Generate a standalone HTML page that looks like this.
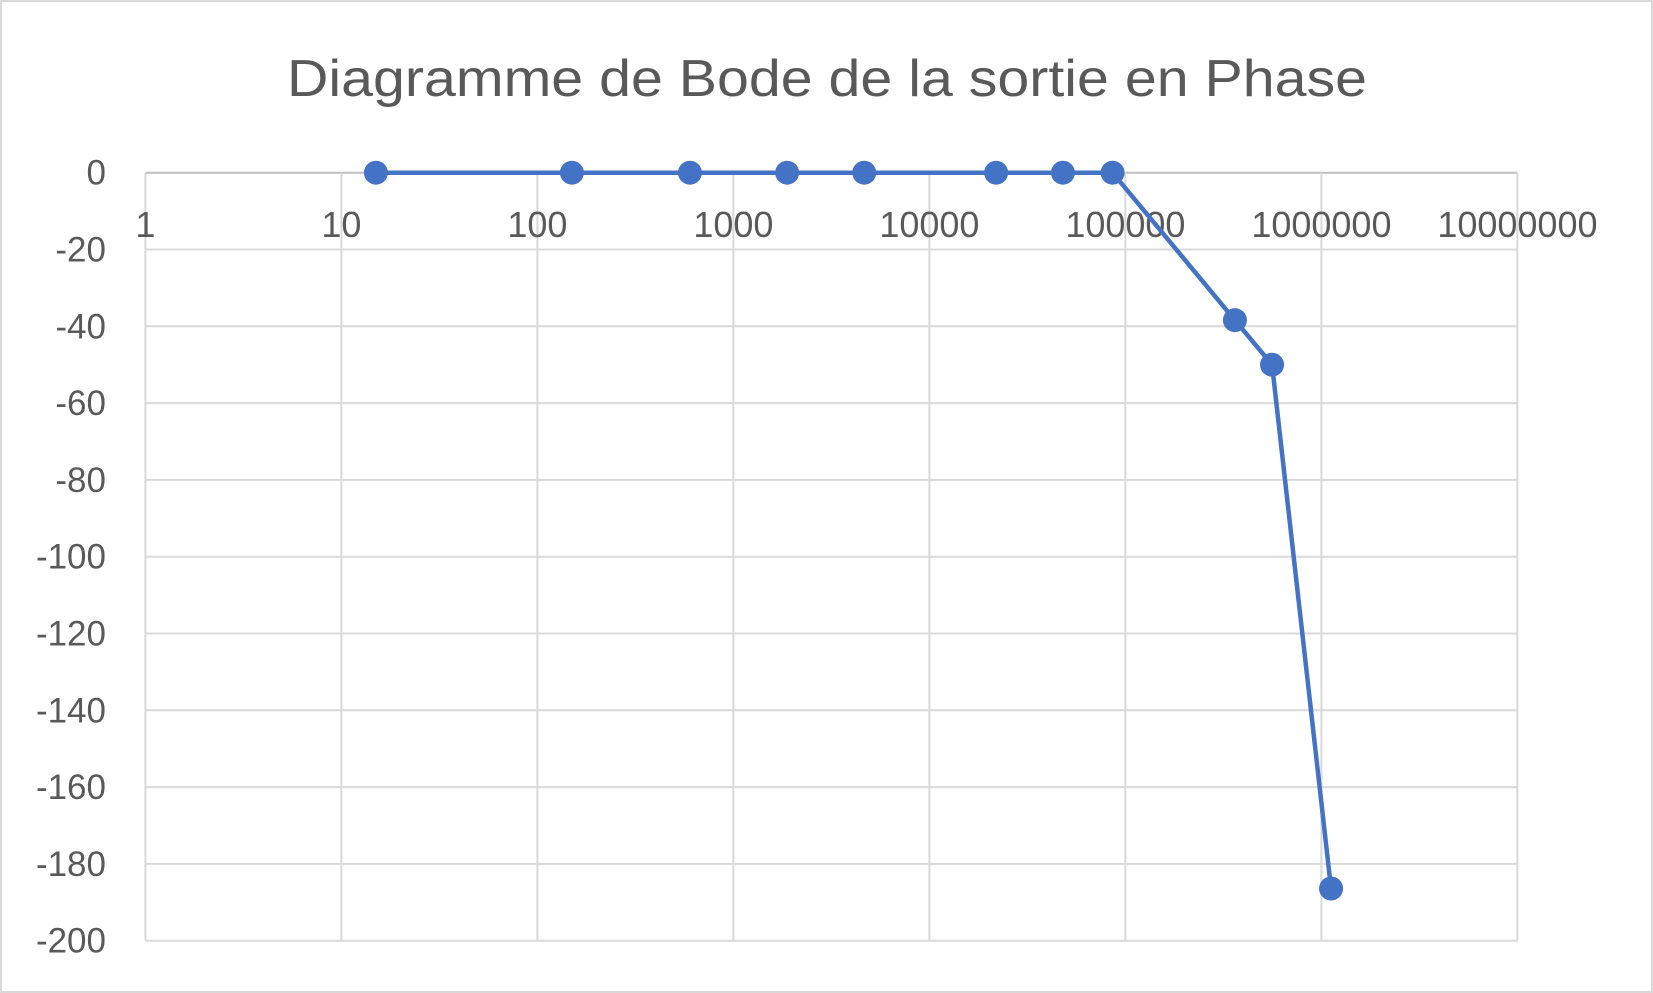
<!DOCTYPE html>
<html><head><meta charset="utf-8"><style>
html,body{margin:0;padding:0;background:#fff;}
svg{display:block;font-family:"Liberation Sans",sans-serif;}
</style></head><body>
<svg id="chart" width="1653" height="993" viewBox="0 0 1653 993">
<rect x="1" y="1" width="1651" height="991" fill="#fff" stroke="#d9d9d9" stroke-width="2"/>
<text x="827" y="96" text-anchor="middle" font-size="52" fill="#595959" textLength="1080" lengthAdjust="spacingAndGlyphs">Diagramme de Bode de la sortie en Phase</text>
<g id="grid"></g><g id="labels"></g><g id="series"></g>
</svg>
<script>
const frequencies=[15,150,600,1880,4650,21900,48000,86000,362000,560000,1120000];
const phases=[0,0,0,0,0,0,0,0,-38.4,-50,-186.4];
const yTicks=[0,-20,-40,-60,-80,-100,-120,-140,-160,-180,-200];
const xTicks=[1,10,100,1000,10000,100000,1000000,10000000];
const NS='http://www.w3.org/2000/svg';
const X0=145.4,DEC=196,Y0=172.7,PY=3.84;
const xs=v=>X0+Math.log10(v)*DEC;
const ys=v=>Y0-v*PY;
function mk(t,a,p){const e=document.createElementNS(NS,t);for(const k in a)e.setAttribute(k,a[k]);p.appendChild(e);return e;}
const g=document.getElementById('grid'),L=document.getElementById('labels'),S=document.getElementById('series');
yTicks.forEach(v=>{
 const l=mk('line',{x1:xs(1),x2:xs(1e7),y1:ys(v),y2:ys(v),stroke:v===0?'#bfbfbf':'#d9d9d9','stroke-width':2},g);
 
 
 const t=mk('text',{x:106,y:ys(v)+12,'text-anchor':'end','font-size':35,fill:'#595959'},L);
 t.textContent=v;
 
 
});
xTicks.forEach(v=>{
 const l=mk('line',{x1:xs(v),x2:xs(v),y1:ys(0),y2:ys(-200),stroke:'#d9d9d9','stroke-width':2},g);
 
 
 const t=mk('text',{x:xs(v),y:237,'text-anchor':'middle','font-size':36,fill:'#595959'},L);
 t.textContent=v;
 
 
});
const pts=frequencies.map((f,i)=>xs(f)+','+ys(phases[i])).join(' ');
const pl=mk('polyline',{points:pts,fill:'none',stroke:'#4472c4','stroke-width':4.5,'stroke-linejoin':'round'},S);


frequencies.forEach((f,i)=>{
 const c=mk('circle',{cx:xs(f),cy:ys(phases[i]),r:12,fill:'#4472c4'},S);
 
 
});
</script>
</body></html>
